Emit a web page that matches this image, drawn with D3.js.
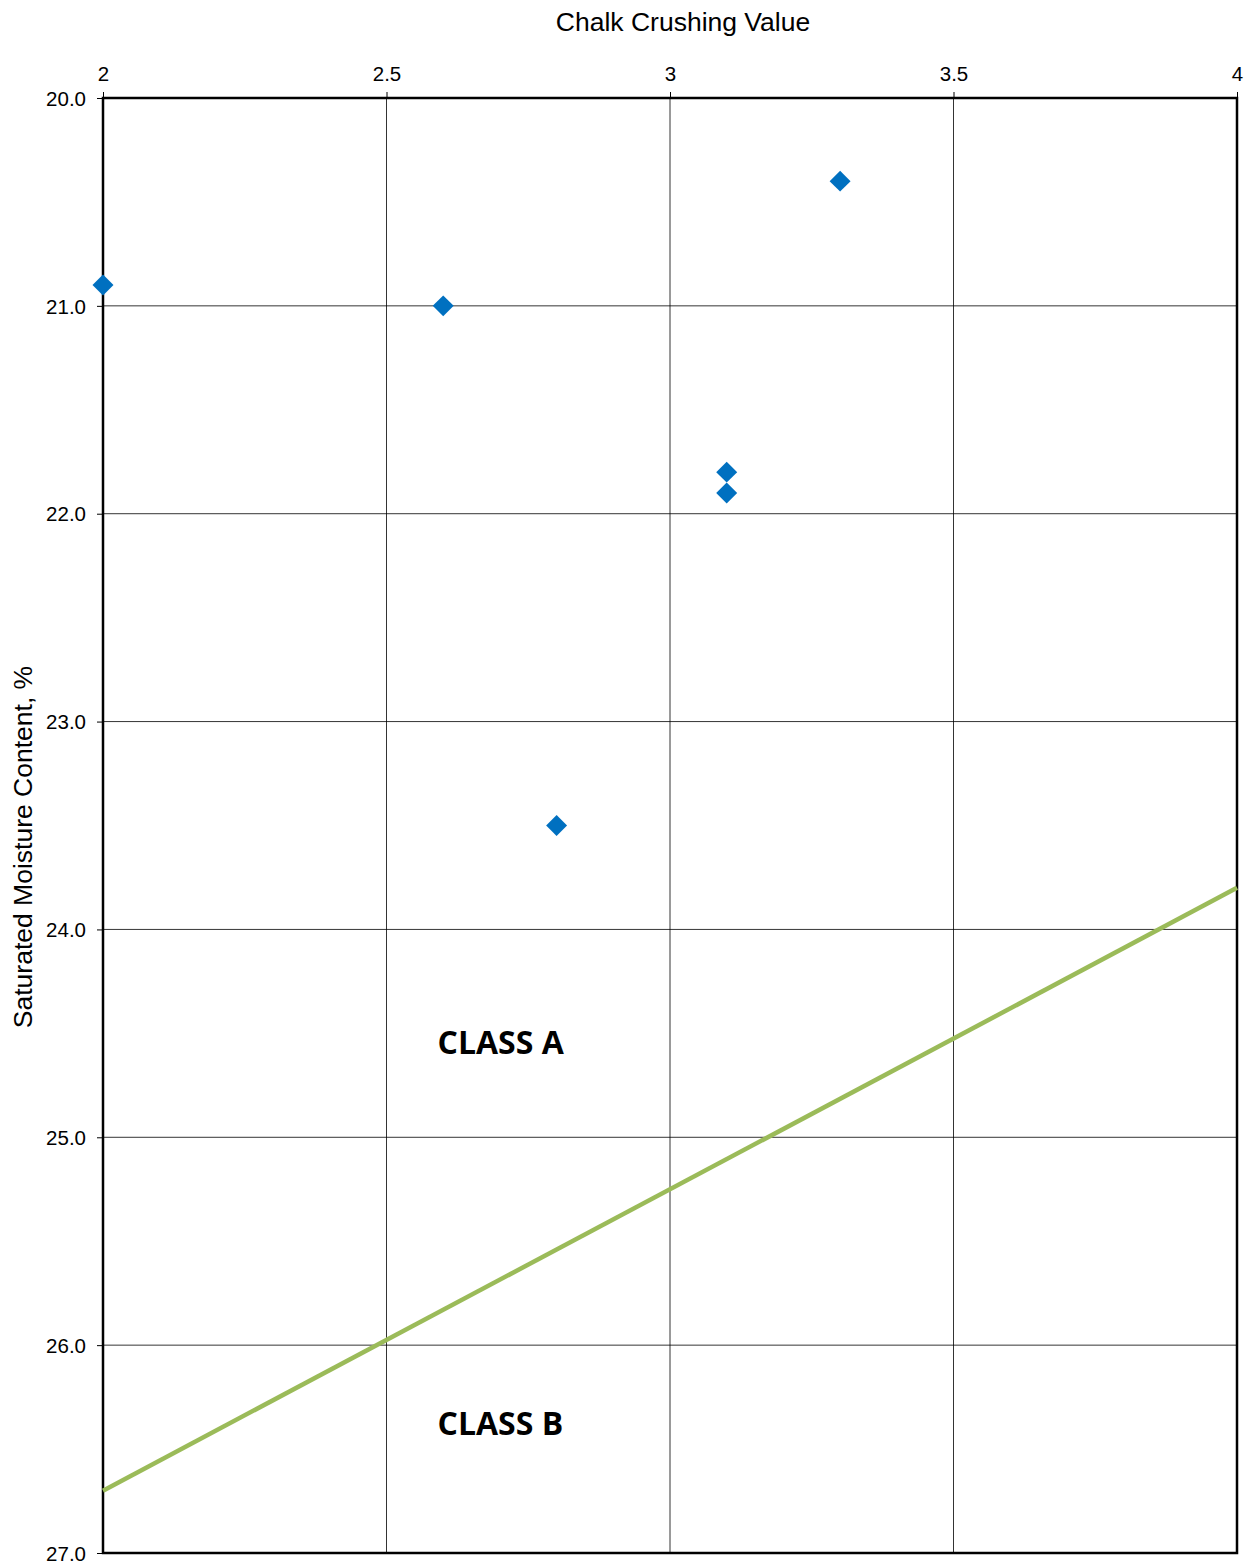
<!DOCTYPE html>
<html>
<head>
<meta charset="utf-8">
<script src="https://cdn.jsdelivr.net/npm/d3@7"></script>
<style>
  body { margin: 0; background: #fff; }
  svg text { font-family: "Liberation Sans", Arial, sans-serif; fill: #000; }
</style>
</head>
<body>
<div id="chart"></div>
<script>
// chalk crushing value (x) vs saturated moisture content (y)
var ccv = [2.0, 2.6, 3.3, 3.1, 3.1, 2.8];
var smc = [20.9, 21.0, 20.4, 21.8, 21.9, 23.5];
// class A / class B boundary
var boundaryCcv = [2, 4];
var boundarySmc = [26.7, 23.8];
var xTicks = [2, 2.5, 3, 3.5, 4];
var yTicks = [20, 21, 22, 23, 24, 25, 26, 27];
var classLabels = ["CLASS A", "CLASS B"];
var classLabelPos = [[2.59, 24.6], [2.59, 26.43]];

var width = 1250, height = 1563;
var margin = { top: 98, right: 13, bottom: 10, left: 103 };

var svg = d3.select("#chart").append("svg")
  .attr("width", width).attr("height", height);

var x = d3.scaleLinear().domain([2, 4]).range([margin.left, width - margin.right]);
var y = d3.scaleLinear().domain([20, 27]).range([margin.top, height - margin.bottom]);

// grid
svg.append("g").selectAll("line.vx")
  .data(xTicks).enter().append("line")
  .attr("x1", d => x(d)).attr("x2", d => x(d))
  .attr("y1", y(20)).attr("y2", y(27))
  .attr("stroke", "#000").attr("stroke-width", 0.8);
svg.append("g").selectAll("line.hy")
  .data(yTicks).enter().append("line")
  .attr("x1", x(2)).attr("x2", x(4))
  .attr("y1", d => y(d)).attr("y2", d => y(d))
  .attr("stroke", "#000").attr("stroke-width", 0.8);

// axes on top and left
var xAxis = svg.append("g")
  .attr("transform", "translate(0," + margin.top + ")")
  .call(d3.axisTop(x).tickValues(xTicks).tickSize(6).tickPadding(11).tickFormat(d3.format("")));
var yAxis = svg.append("g")
  .attr("transform", "translate(" + margin.left + ",0)")
  .call(d3.axisLeft(y).tickValues(yTicks).tickSize(6).tickPadding(11).tickFormat(d3.format(".1f")));
[xAxis, yAxis].forEach(function (a) {
  a.select(".domain").remove();
  a.selectAll("text").style("font-size", "20.5px").style("font-family", "Liberation Sans, Arial, sans-serif");
  a.selectAll(".tick line").attr("stroke", "#000").attr("stroke-width", 1);
});
yAxis.selectAll("text").attr("dy", "0.35em");

// frame
svg.append("rect")
  .attr("x", x(2)).attr("y", y(20))
  .attr("width", x(4) - x(2)).attr("height", y(27) - y(20))
  .attr("fill", "none").attr("stroke", "#000").attr("stroke-width", 2.5);

// boundary line
svg.append("path")
  .datum(boundaryCcv.map((d, i) => [d, boundarySmc[i]]))
  .attr("d", d3.line().x(d => x(d[0])).y(d => y(d[1])))
  .attr("stroke", "#9BBB59").attr("stroke-width", 4.5).attr("fill", "none");

// data points
svg.append("g").selectAll("path")
  .data(ccv.map((d, i) => [d, smc[i]]))
  .enter().append("path")
  .attr("transform", d => "translate(" + x(d[0]) + "," + y(d[1]) + ")")
  .attr("d", d3.symbol().type(d3.symbolDiamond2).size(280))
  .attr("fill", "#0070C0");

// class labels
svg.append("g").selectAll("text")
  .data(classLabels).enter().append("text")
  .attr("x", (d, i) => x(classLabelPos[i][0]))
  .attr("y", (d, i) => y(classLabelPos[i][1]))
  .style("font-family", "'Open Sans', sans-serif")
  .style("font-weight", "bold")
  .style("font-size", "32px")
  .text(d => d);

// axis titles
svg.append("text")
  .attr("x", 683).attr("y", 31)
  .attr("text-anchor", "middle")
  .style("font-size", "26.5px")
  .text("Chalk Crushing Value");
svg.append("text")
  .attr("transform", "translate(32,847) rotate(-90)")
  .attr("text-anchor", "middle")
  .style("font-size", "26.5px")
  .text("Saturated Moisture Content, %");
</script>
</body>
</html>
